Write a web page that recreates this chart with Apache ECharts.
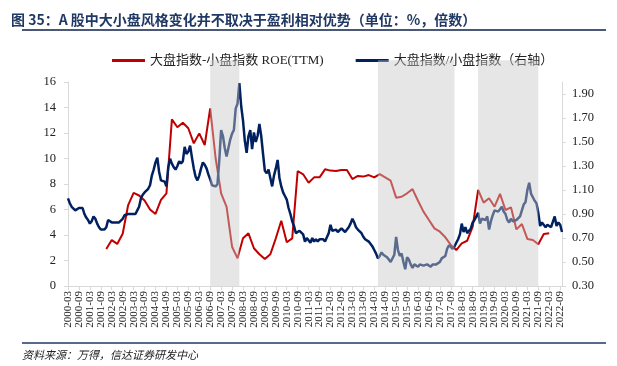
<!DOCTYPE html>
<html><head><meta charset="utf-8">
<script src="https://cdn.jsdelivr.net/npm/echarts@6/dist/echarts.min.js"></script>
<style>html,body{margin:0;padding:0;background:#fff}#c{width:617px;height:366px}</style>
</head><body><div id="c"></div>
<script>
// ---- categories: monthly, 2000-03 .. 2022-10 ----
const firstYear = 2000, firstMonth = 3, monthCount = 272;
const months = [];
for (let i = 0; i < monthCount; i++) {
  const t = (firstMonth - 1) + i;
  const y = firstYear + Math.floor(t / 12), m = (t % 12) + 1;
  months.push(y + '-' + (m < 10 ? '0' + m : m));
}

// ---- 大盘指数/小盘指数 (right axis), monthly from 2000-03 ----
const ratioValues = [
  1.03,0.99,0.96,0.95,0.93,0.92,0.95,0.96,0.95,0.90,
  0.87,0.85,0.82,0.84,0.88,0.86,0.82,0.79,0.77,0.78,
  0.77,0.79,0.85,0.84,0.83,0.84,0.83,0.84,0.83,0.82,
  0.86,0.89,0.88,0.90,0.91,0.90,0.91,0.90,0.93,0.96,
  1.03,1.06,1.08,1.09,1.11,1.14,1.22,1.27,1.33,1.37,
  1.25,1.18,1.17,1.17,1.13,1.29,1.36,1.32,1.29,1.27,
  1.30,1.34,1.32,1.34,1.46,1.40,1.42,1.47,1.37,1.28,
  1.21,1.18,1.22,1.28,1.33,1.31,1.28,1.23,1.19,1.14,
  1.14,1.13,1.15,1.35,1.60,1.55,1.45,1.38,1.37,1.52,
  1.57,1.60,1.78,1.82,1.99,1.80,1.68,1.51,1.41,1.55,
  1.60,1.44,1.58,1.50,1.55,1.65,1.55,1.40,1.26,1.24,
  1.27,1.20,1.13,1.22,1.28,1.35,1.20,1.13,1.08,1.05,
  1.02,0.95,0.90,0.84,0.80,0.74,0.73,0.76,0.75,0.73,
  0.67,0.70,0.69,0.66,0.70,0.67,0.69,0.67,0.69,0.70,
  0.69,0.67,0.68,0.74,0.81,0.76,0.76,0.77,0.75,0.75,
  0.78,0.79,0.75,0.76,0.79,0.82,0.86,0.83,0.79,0.77,
  0.76,0.74,0.71,0.69,0.68,0.67,0.66,0.63,0.60,0.57,
  0.53,0.55,0.58,0.56,0.55,0.54,0.52,0.50,0.51,0.56,
  0.71,0.60,0.55,0.57,0.50,0.44,0.54,0.52,0.48,0.45,
  0.48,0.49,0.46,0.48,0.49,0.47,0.46,0.48,0.47,0.46,
  0.48,0.49,0.48,0.48,0.50,0.53,0.54,0.55,0.61,0.64,
  0.63,0.61,0.63,0.66,0.69,0.73,0.82,0.75,0.79,0.74,
  0.76,0.78,0.83,0.85,0.86,0.91,0.82,0.86,0.86,0.85,
  0.88,0.77,0.84,0.89,0.93,0.93,0.92,0.94,0.96,0.92,
  0.90,0.85,0.83,0.86,0.84,0.85,0.85,0.86,0.88,0.93,
  0.98,1.00,1.10,1.16,1.07,1.04,1.01,0.99,0.91,0.80,
  0.83,0.82,0.79,0.81,0.80,0.79,0.80,0.88,0.80,0.83,
  0.81,0.75
];

// ---- 大盘指数-小盘指数 ROE(TTM) (left axis), quarterly from 2001-12 ----
const roeStart = '2001-12';
const roeStepMonths = 3;
const roeValues = [
  2.9,3.6,3.3,4.1,6.35,7.3,7.1,6.7,6.0,5.65,
  6.75,7.27,13.07,12.45,12.8,12.37,11.19,11.97,11.06,13.93,
  10.0,7.27,6.2,3.08,2.17,3.74,4.13,2.96,2.49,2.12,
  2.49,3.74,5.12,3.43,3.74,9.02,8.76,8.1,8.52,8.52,
  9.15,9.05,9.02,9.1,9.1,8.39,8.63,8.58,8.7,8.52,
  8.78,8.52,8.26,6.93,7.0,7.27,7.6,6.69,5.83,5.18,
  4.52,4.26,3.82,3.22,2.82,3.35,3.55,4.65,7.53,6.54,
  6.88,6.22,7.22,5.96,6.17,4.44,4.86,3.69,3.61,3.27,
  4.08,4.13
];

// ---- shaded periods ----
const bandStarts = ['2006-09', '2014-05', '2018-12'];
const bandEnds   = ['2008-01', '2017-11', '2021-09'];
const bandTop = 17.7;

// ---- axis ticks ----
const leftMin = 0, leftMax = 16, leftStep = 2;
const rightMin = 0.3, rightMax = 2.0, rightStep = 0.2;

const seriesNames = ['大盘指数-小盘指数 ROE(TTM)', '大盘指数/小盘指数（右轴）'];

// build monthly array for ROE
const roeMonthly = months.map(() => null);
const roeIdx0 = months.indexOf(roeStart);
roeValues.forEach((v, i) => { roeMonthly[roeIdx0 + i * roeStepMonths] = v; });

const bandData = bandStarts.map((s, i) => [months.indexOf(s), months.indexOf(bandEnds[i]), bandTop]);

const showLabel = (i, v) => /-(03|09)$/.test(v);
const serif = "'Liberation Serif', 'Noto Sans CJK SC', serif";

const chart = echarts.init(document.getElementById('c'), null, {renderer: 'canvas'});
chart.setOption({
  animation: false,
  backgroundColor: '#fff',
  title: {
    text: '图 35：A 股中大小盘风格变化并不取决于盈利相对优势（单位：%，倍数）',
    left: 6, top: 8,
    textStyle: {fontSize: 14, fontWeight: 'bold', color: '#1f3864', fontFamily: "'Noto Sans CJK SC', sans-serif"}
  },
  legend: {
    data: seriesNames,
    left: 107, top: 49,
    icon: 'rect', itemWidth: 33, itemHeight: 3, itemGap: 32,
    textStyle: {fontSize: 13, color: '#222', fontFamily: serif}
  },
  grid: {left: 68, right: 55, top: 82, bottom: 80, containLabel: false},
  xAxis: {
    type: 'category', data: months, boundaryGap: false,
    axisLine: {lineStyle: {color: '#d9d9d9', width: 1}},
    axisTick: {show: true, interval: showLabel, length: 4, lineStyle: {color: '#d9d9d9'}},
    axisLabel: {interval: showLabel, rotate: 90, margin: 5, fontSize: 11, color: '#222', fontFamily: serif},
    splitLine: {show: false}
  },
  yAxis: [{
    type: 'value', min: leftMin, max: leftMax, interval: leftStep,
    axisLine: {show: true, lineStyle: {color: '#d9d9d9'}},
    axisTick: {show: true, length: 4, lineStyle: {color: '#d9d9d9'}},
    axisLabel: {margin: 12, fontSize: 12.5, color: '#222', fontFamily: serif},
    splitLine: {show: false}
  }, {
    type: 'value', min: rightMin, max: rightMax, interval: rightStep, position: 'right',
    axisLine: {show: true, lineStyle: {color: '#d9d9d9'}},
    axisTick: {show: true, length: 4, lineStyle: {color: '#d9d9d9'}},
    axisLabel: {margin: 10, fontSize: 12.5, color: '#222', fontFamily: serif, showMaxLabel: false,
      formatter: v => v.toFixed(2)},
    splitLine: {show: false}
  }],
  series: [{
    name: seriesNames[0], type: 'line', data: roeMonthly, yAxisIndex: 0,
    connectNulls: true, showSymbol: false, symbol: 'none',
    lineStyle: {color: '#c00000', width: 2}, itemStyle: {color: '#c00000'}, z: 2
  }, {
    name: seriesNames[1], type: 'line', data: ratioValues, yAxisIndex: 1,
    showSymbol: false, symbol: 'none',
    lineStyle: {color: '#002060', width: 2.5}, itemStyle: {color: '#002060'}, z: 2
  }, {
    type: 'custom', yAxisIndex: 0, clip: false, silent: true, z: 5,
    encode: {x: [0, 1], y: 2},
    data: bandData,
    renderItem: (params, api) => {
      const p0 = api.coord([api.value(0), 0]);
      const p1 = api.coord([api.value(1), api.value(2)]);
      return {type: 'rect', shape: {x: p0[0], y: p1[1], width: p1[0] - p0[0], height: p0[1] - p1[1]},
        style: {fill: 'rgba(200,200,200,0.45)'}};
    }
  }],
  graphic: [
    {type: 'line', shape: {x1: 22, y1: 30, x2: 606, y2: 30}, style: {stroke: '#4a5878', lineWidth: 2}},
    {type: 'line', shape: {x1: 22, y1: 343, x2: 606, y2: 343}, style: {stroke: '#1f3864', lineWidth: 1.5}},
    {type: 'text', left: 22, top: 349, style: {text: '资料来源：万得，信达证券研发中心', fontSize: 11, fontStyle: 'italic', fill: '#222', fontFamily: "'Noto Sans CJK SC', sans-serif"}}
  ]
});
</script></body></html>
